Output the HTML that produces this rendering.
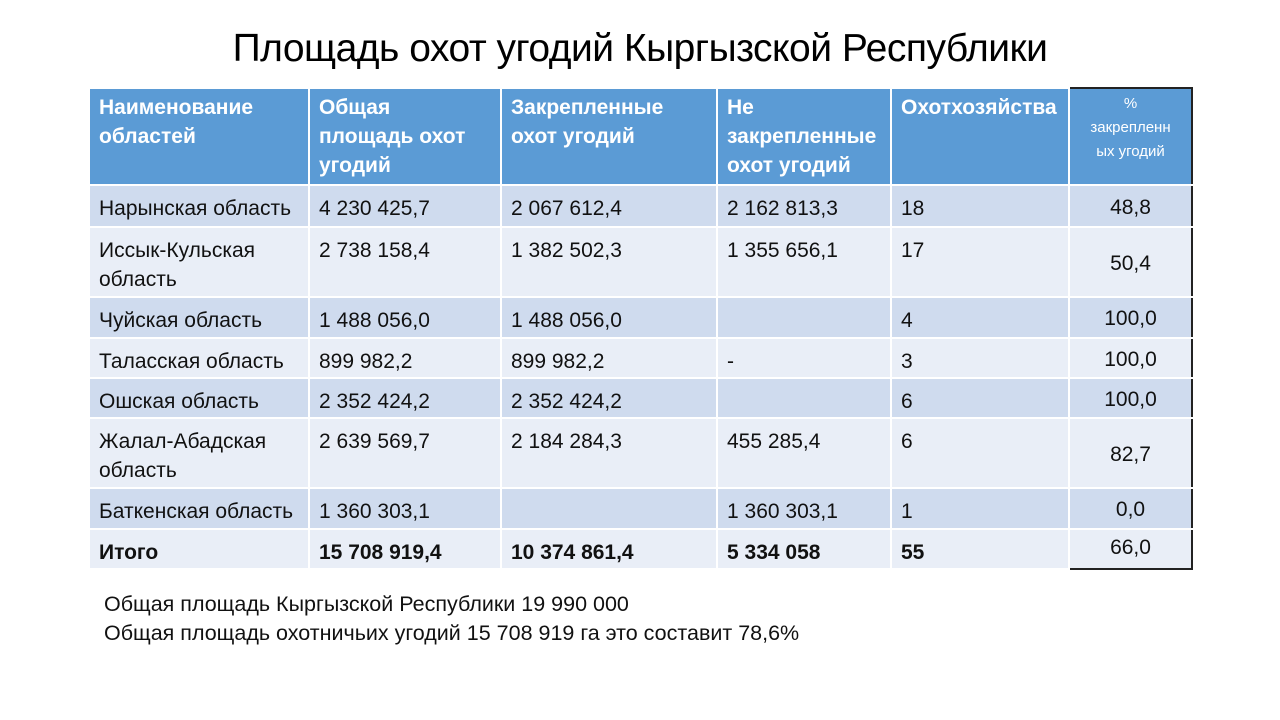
<!DOCTYPE html>
<html><head><meta charset="utf-8"><style>
body{margin:0;width:1280px;height:720px;background:#fff;font-family:"Liberation Sans",sans-serif;position:relative;overflow:hidden}
h1{position:absolute;top:27px;left:0;width:1280px;text-align:center;margin:0;font-weight:normal;font-size:39px;color:#000;letter-spacing:-0.5px}
table{position:absolute;left:88px;top:87px;border-collapse:collapse;table-layout:fixed;width:1103px}
td{border:2px solid #fff;padding:8px 9px 0 9px;vertical-align:top;font-size:21px;line-height:29px;color:#111;white-space:nowrap;overflow:hidden}
tr.h td{background:#5b9bd5;color:#fff;font-weight:bold;height:91px;padding-top:4px}
tr.a td{background:#cfdbee}
tr.b td{background:#e9eef7}
td.p{text-align:center;vertical-align:middle;padding-top:2px;border-left:2px solid #222;border-right:2px solid #222}
tr.h td.p{font-weight:normal;font-size:15px;line-height:24px;vertical-align:top;border-top:2px solid #222;padding-top:3px}
tr.last td.p{border-bottom:2px solid #222;vertical-align:top;padding-top:3px}
tr.last td{font-weight:bold}
tr.last td.p{font-weight:normal}
.note{position:absolute;left:104px;font-size:21.5px;color:#111}
</style></head><body>
<h1>Площадь охот угодий Кыргызской Республики</h1>
<table>
<colgroup><col style="width:220px"><col style="width:192px"><col style="width:216px"><col style="width:174px"><col style="width:178px"><col style="width:123px"></colgroup>
<tr class="h"><td>Наименование<br>областей</td><td>Общая<br>площадь охот<br>угодий</td><td>Закрепленные<br>охот угодий</td><td>Не<br>закрепленные<br>охот угодий</td><td>Охотхозяйства</td><td class="p">%<br>закрепленн<br>ых угодий</td></tr>
<tr class="a"><td style="height:32px">Нарынская область</td><td>4 230 425,7</td><td>2 067 612,4</td><td>2 162 813,3</td><td>18</td><td class="p">48,8</td></tr>
<tr class="b"><td style="height:60px">Иссык-Кульская<br>область</td><td>2 738 158,4</td><td>1 382 502,3</td><td>1 355 656,1</td><td>17</td><td class="p">50,4</td></tr>
<tr class="a"><td style="height:31px">Чуйская область</td><td>1 488 056,0</td><td>1 488 056,0</td><td></td><td>4</td><td class="p">100,0</td></tr>
<tr class="b"><td style="height:30px">Таласская область</td><td>899 982,2</td><td>899 982,2</td><td>-</td><td>3</td><td class="p">100,0</td></tr>
<tr class="a"><td style="height:30px">Ошская область</td><td>2 352 424,2</td><td>2 352 424,2</td><td></td><td>6</td><td class="p">100,0</td></tr>
<tr class="b"><td style="height:60px">Жалал-Абадская<br>область</td><td>2 639 569,7</td><td>2 184 284,3</td><td>455 285,4</td><td>6</td><td class="p">82,7</td></tr>
<tr class="a"><td style="height:31px">Баткенская область</td><td>1 360 303,1</td><td></td><td>1 360 303,1</td><td>1</td><td class="p">0,0</td></tr>
<tr class="b last"><td style="height:30px">Итого</td><td>15 708 919,4</td><td>10 374 861,4</td><td>5 334 058</td><td>55</td><td class="p">66,0</td></tr>
</table>
<div class="note" style="top:592px">Общая площадь Кыргызской Республики 19 990 000</div>
<div class="note" style="top:621px">Общая площадь охотничьих угодий 15 708 919 га это составит 78,6%</div>
</body></html>
